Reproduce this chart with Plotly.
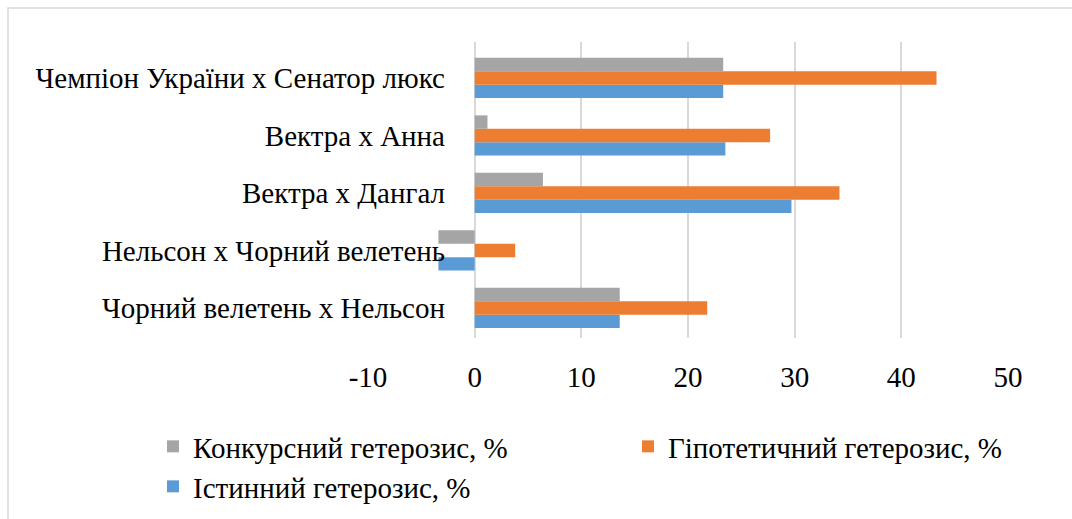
import plotly.graph_objects as go

categories = [
    "Чорний велетень x Нельсон",
    "Нельсон x Чорний велетень",
    "Вектра x Дангал",
    "Вектра x Анна",
    "Чемпіон України x Сенатор люкс",
]
istynnyi = [13.6, -3.4, 29.7, 23.5, 23.3]
hipotetychnyi = [21.8, 3.8, 34.2, 27.7, 43.3]
konkursnyi = [13.6, -3.4, 6.4, 1.2, 23.3]

series_names = ["Істинний гетерозис, %", "Гіпотетичний гетерозис, %", "Конкурсний гетерозис, %"]
colors = ["#5B9BD5", "#ED7D31", "#A5A5A5"]
x_ticks = [-10, 0, 10, 20, 30, 40, 50]
x_tick_labels = ["-10", "0", "10", "20", "30", "40", "50"]

FONT = "Liberation Serif, Times New Roman, serif"
W, H = 1072, 519
L, R, T, B = 368, 64, 42, 181
pw, ph = W - L - R, H - T - B

def px_x(p):
    return (p - L) / pw

def px_y(p):
    return (H - B - p) / ph

fig = go.Figure()
for name, vals, col, lg in zip(series_names, [istynnyi, hipotetychnyi, konkursnyi], colors,
                               ["legend2", "legend", "legend"]):
    fig.add_trace(go.Bar(
        y=categories, x=vals, name=name, orientation="h",
        marker=dict(color=col, line=dict(width=0)),
        legend=lg,
    ))

fig.update_layout(
    width=W, height=H,
    margin=dict(l=L, r=R, t=T, b=B, autoexpand=False),
    paper_bgcolor="white", plot_bgcolor="white",
    barmode="group", bargap=0.3, bargroupgap=0,
    font=dict(family=FONT, size=29, color="black"),
    xaxis=dict(range=[-10, 50], tickvals=x_ticks, ticktext=x_tick_labels,
               showgrid=True, gridcolor="#D9D9D9",
               gridwidth=1.5, zeroline=False, showline=False, ticks="",
               tickfont=dict(family=FONT, size=29, color="black"),
               ticklabelstandoff=19, automargin=False),
    yaxis=dict(type="category", categoryorder="array", categoryarray=categories,
               range=[-0.522, 4.626], showgrid=False, zeroline=False, showline=False,
               ticks="", anchor="free", position=px_x(445),
               tickfont=dict(family=FONT, size=29, color="black"),
               automargin=False),
    legend=dict(orientation="h", x=px_x(153), xanchor="left", y=px_y(421), yanchor="top",
                traceorder="reversed", entrywidth=430,
                font=dict(family=FONT, size=29, color="black"),
                bgcolor="rgba(0,0,0,0)"),
    legend2=dict(orientation="h", x=px_x(153), xanchor="left", y=px_y(461), yanchor="top",
                 font=dict(family=FONT, size=29, color="black"), bgcolor="rgba(0,0,0,0)"),
    shapes=[dict(type="rect", xref="paper", yref="paper",
                 x0=px_x(8), x1=px_x(1100), y0=px_y(560), y1=px_y(8),
                 line=dict(color="#D9D9D9", width=1.5), fillcolor="rgba(0,0,0,0)", layer="below")],
)

fig.write_html("out.html", config={"displayModeBar": False},
               post_script="document.body.style.margin='0';")
